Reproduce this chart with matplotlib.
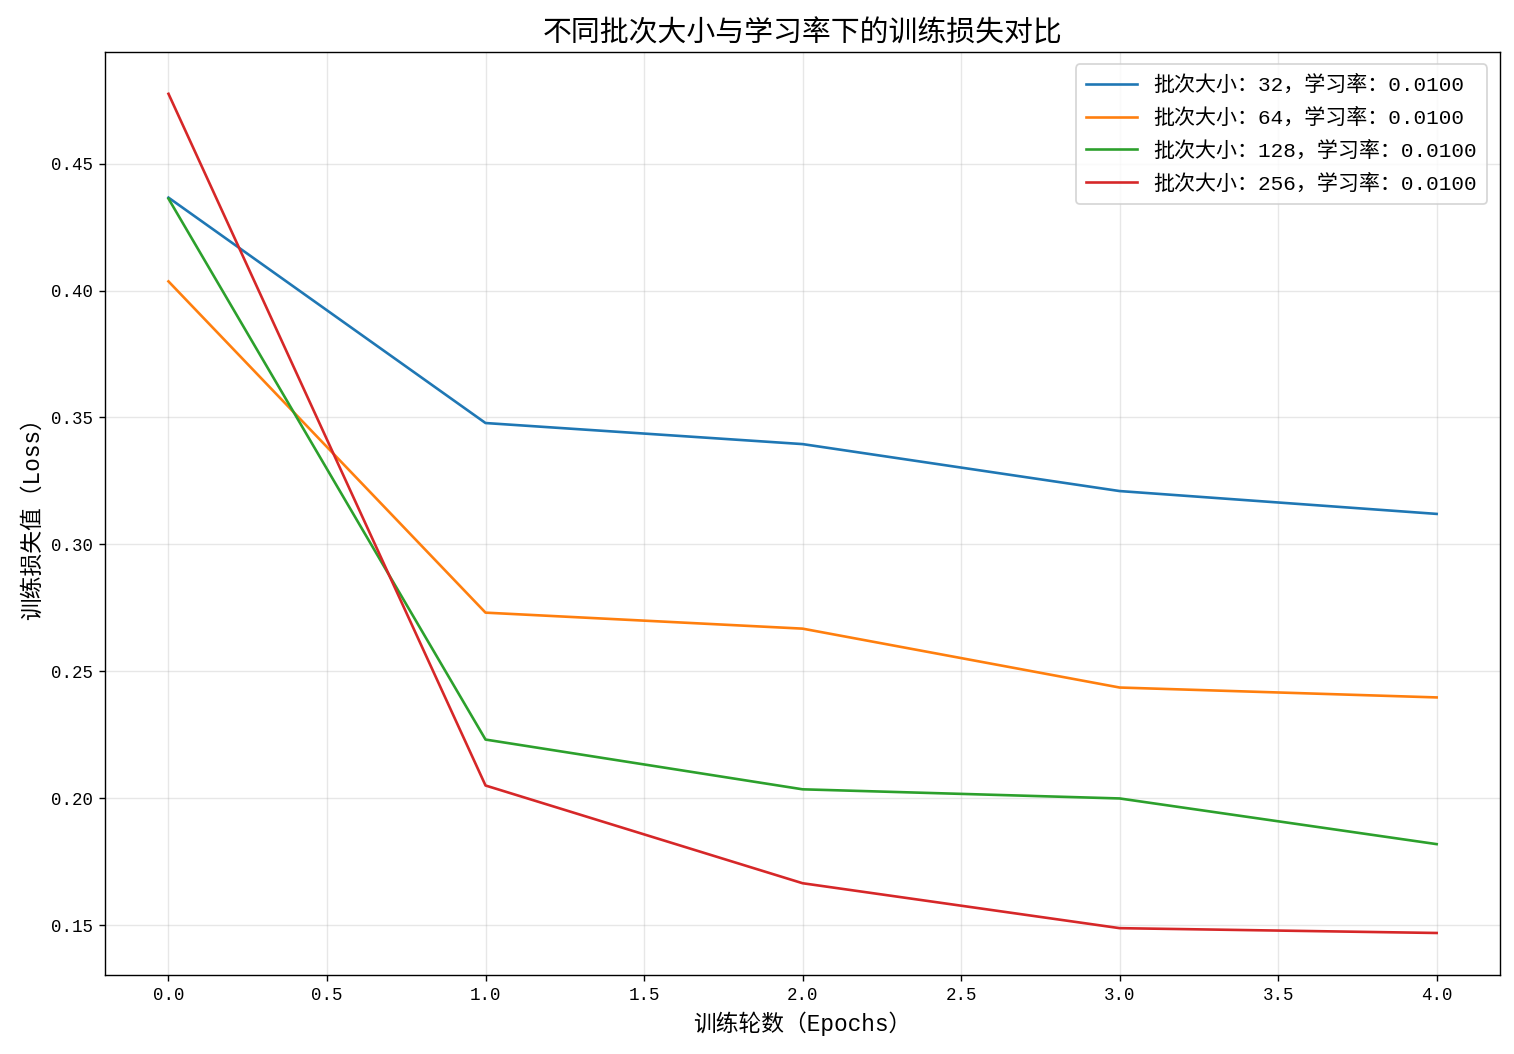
import matplotlib
matplotlib.use('Agg')
import matplotlib.pyplot as plt

plt.rcParams['font.family'] = ['Liberation Mono', 'Noto Sans CJK SC', 'DejaVu Sans']
plt.rcParams['axes.unicode_minus'] = False

# data
epochs = [0, 1, 2, 3, 4]
batch_sizes = [32, 64, 128, 256]
learning_rate = 0.01
loss_bs32 = [0.4366, 0.3478, 0.3395, 0.3210, 0.3120]
loss_bs64 = [0.4036, 0.2731, 0.2668, 0.2436, 0.2397]
loss_bs128 = [0.4362, 0.2231, 0.2035, 0.1999, 0.1819]
loss_bs256 = [0.4775, 0.2050, 0.1665, 0.1488, 0.1469]
all_losses = [loss_bs32, loss_bs64, loss_bs128, loss_bs256]

fig = plt.figure(figsize=(12.016, 8.366), dpi=126)
ax = fig.add_axes([0.0694, 0.075, 0.9214, 0.8757])

for bs, losses in zip(batch_sizes, all_losses):
    ax.plot(epochs, losses, label=f'批次大小：{bs}，学习率：{learning_rate:.4f}', linewidth=1.5)

ax.set_title('不同批次大小与学习率下的训练损失对比', fontsize=16.5, pad=6)
ax.set_xlabel('训练轮数（Epochs）', fontsize=13, labelpad=4)
ax.set_ylabel('训练损失值（Loss）', fontsize=13)
ax.grid(True, alpha=0.3)
ax.legend(loc='upper right', fontsize=12, borderaxespad=0.6,
          labelspacing=0.6, handlelength=2.4, borderpad=0.5)

fig.savefig('out.png', dpi=126)
